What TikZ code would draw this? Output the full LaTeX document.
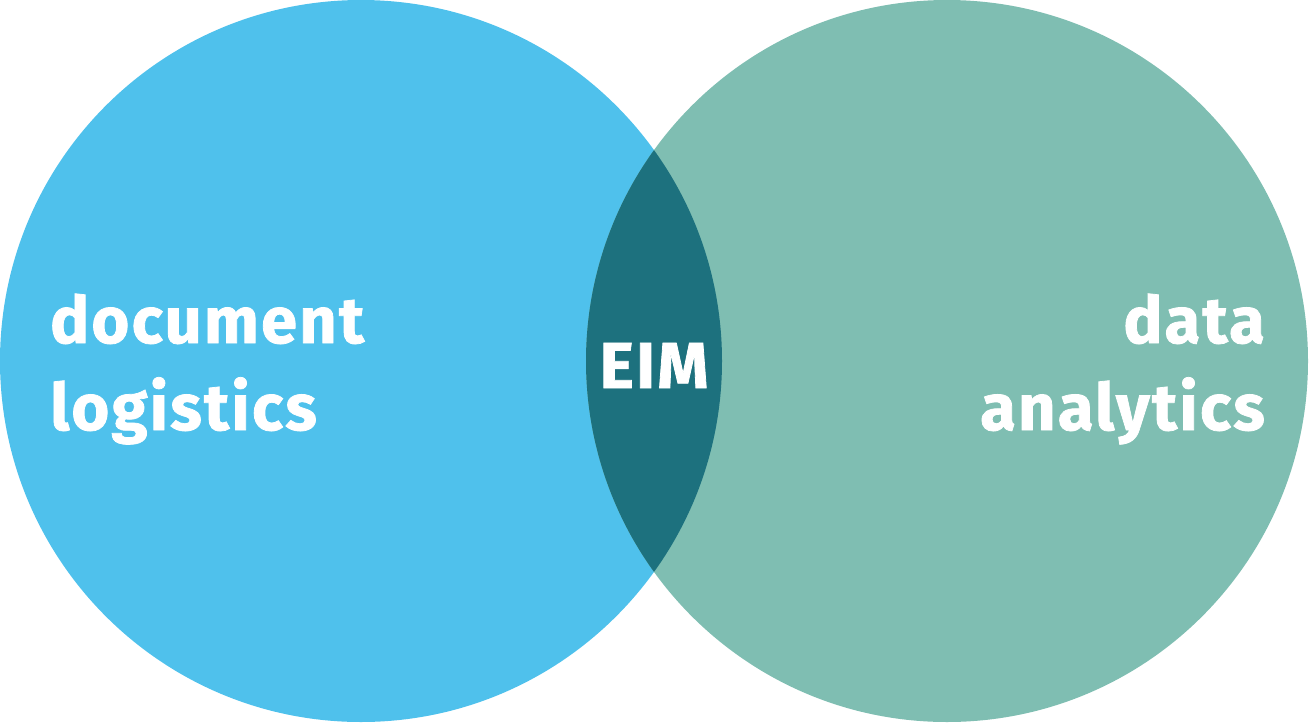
\documentclass[tikz,border=0pt]{standalone}
\usepackage{fontspec}
\setmainfont{Fira Sans}[LetterSpace=3.5,FakeBold=1.2]
\definecolor{lblue}{HTML}{4FC1EC}
\definecolor{lgreen}{HTML}{7FBEB2}
\definecolor{lteal}{HTML}{1D717E}
\begin{document}
\begin{tikzpicture}[x=1pt,y=-1pt,
  lbl/.style={text=white,font=\fontsize{65}{74}\selectfont\bfseries,inner sep=0pt}]
\useasboundingbox (0,0) rectangle (1312,723);
\fill[lblue] (361,361) circle[radius=361];
\fill[lgreen] (947,361) circle[radius=361];
\begin{scope}
\clip (361,361) circle[radius=361];
\fill[lteal] (947,361) circle[radius=361];
\end{scope}
\node[lbl,anchor=base west] (dl) at (50,343) {document};
\node[lbl,anchor=base west] (dl2) at (50,430) {logistics};
\node[lbl,anchor=base east] (da) at (1265,343) {data};
\node[lbl,anchor=base east] (da2) at (1265,430) {analytics};
\node[lbl,anchor=base] (eim) at (654,388) {EIM};
\end{tikzpicture}
\end{document}
